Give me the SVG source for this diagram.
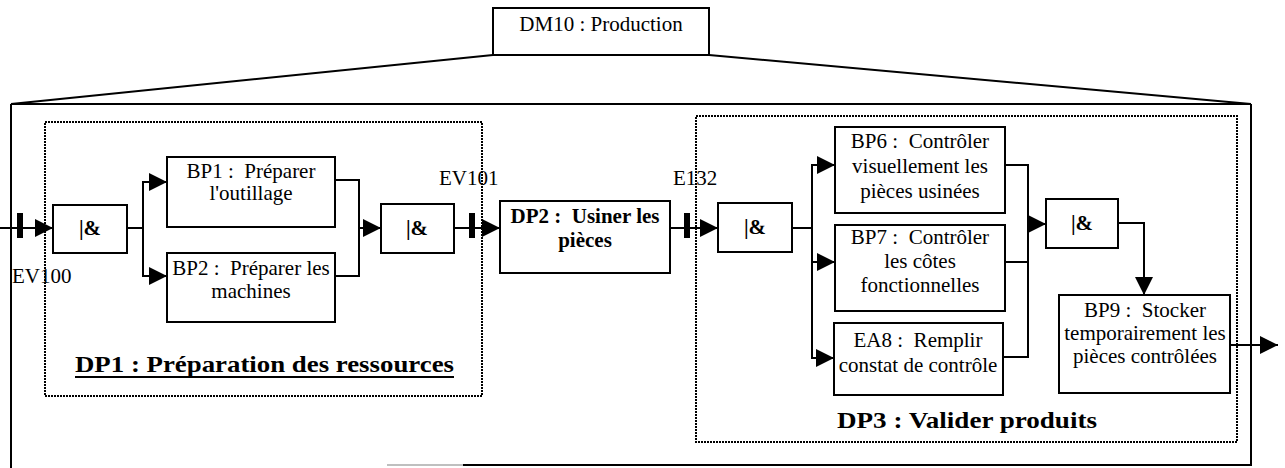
<svg xmlns="http://www.w3.org/2000/svg" width="1285" height="468" viewBox="0 0 1285 468">
<style>
text{font-family:"Liberation Serif","Times New Roman",serif;font-size:21px;fill:#000;white-space:pre}
.c{text-anchor:middle}
.b{font-weight:bold}
.box{fill:#fff;stroke:#000;stroke-width:2}
.dot{fill:none;stroke:#000;stroke-width:2;stroke-dasharray:2 1}
.ln{fill:none;stroke:#000;stroke-width:2}
.arr{fill:none;stroke:#000;stroke-width:2;marker-end:url(#ah)}
.tick{fill:#000}
.big{font-size:24px;font-weight:bold}
</style>
<defs>
<marker id="ah" markerUnits="userSpaceOnUse" markerWidth="20" markerHeight="20" refX="19" refY="10" orient="auto">
<path d="M1,1 L19,10 L1,19 Z" fill="#000"/>
</marker>
</defs>

<g id="frame">
<line class="ln" x1="493" y1="55" x2="11" y2="104"/>
<line class="ln" x1="709" y1="55" x2="1251" y2="104"/>
<line class="ln" x1="11" y1="104" x2="1251" y2="104"/>
<line class="ln" x1="11" y1="104" x2="11" y2="468"/>
<line class="ln" x1="1251" y1="104" x2="1251" y2="465"/>
<line x1="387" y1="465" x2="463" y2="465" stroke="#aaa" stroke-width="1.5"/>
<line class="ln" x1="463" y1="465" x2="1252" y2="465"/>
</g>

<g id="DM10">
<rect class="box" x="493" y="8" width="216" height="47"/>
<text class="c" x="601" y="31">DM10 : Production</text>
</g>

<g id="DP1">
<rect class="dot" x="45" y="122" width="437" height="274"/>
<text class="big" x="75" y="372" textLength="379" lengthAdjust="spacingAndGlyphs">DP1 : Préparation des ressources</text>
<line x1="75" y1="377" x2="454" y2="377" stroke="#000" stroke-width="2"/>
</g>

<g id="DP3">
<rect class="dot" x="696" y="116" width="541" height="326"/>
<text class="big" x="837" y="428" textLength="260" lengthAdjust="spacingAndGlyphs">DP3 : Valider produits</text>
</g>

<g id="connectors">
<path class="arr" d="M0,228 H53"/>
<rect class="tick" x="17" y="213" width="6" height="25"/>
<path class="ln" d="M127,228 H143"/>
<path class="arr" d="M143,228 V182 H167"/>
<path class="arr" d="M143,228 V276 H167"/>
<path class="ln" d="M335,180 H359 V228"/>
<path class="ln" d="M335,276 H359 V228"/>
<path class="arr" d="M359,228 H381"/>
<path class="arr" d="M454,228 H500"/>
<rect class="tick" x="469" y="213" width="6" height="25"/>
<path class="arr" d="M670,228 H718"/>
<rect class="tick" x="684" y="213" width="6" height="25"/>
<path class="ln" d="M792,228 H812"/>
<path class="arr" d="M812,228 V165 H835"/>
<path class="arr" d="M812,228 V262 H835"/>
<path class="arr" d="M812,228 V358 H834"/>
<path class="ln" d="M1005,165 H1028 V224"/>
<path class="ln" d="M1005,262 H1028"/>
<path class="ln" d="M1003,357 H1028 V224"/>
<path class="arr" d="M1028,224 H1046"/>
<path class="arr" d="M1118,223 H1144 V295"/>
<path class="arr" d="M1230,345 H1278"/>
</g>

<g id="labels">
<text x="12" y="283">EV100</text>
<text x="439" y="185">EV101</text>
<text x="673" y="185">E132</text>
</g>

<g id="and1">
<rect class="box" x="53" y="205" width="74" height="48"/>
<text class="c b" x="90" y="235">|&amp;</text>
</g>
<g id="BP1">
<rect class="box" x="167" y="157" width="168" height="70"/>
<text class="c" x="251" y="178">BP1 :  Préparer</text>
<text class="c" x="251" y="200">l'outillage</text>
</g>
<g id="BP2">
<rect class="box" x="167" y="253" width="168" height="69"/>
<text class="c" x="251" y="275">BP2 :  Préparer les</text>
<text class="c" x="251" y="298">machines</text>
</g>
<g id="and2">
<rect class="box" x="381" y="204" width="73" height="49"/>
<text class="c b" x="417" y="235">|&amp;</text>
</g>
<g id="DP2">
<rect class="box" x="500" y="201" width="170" height="72"/>
<text class="c b" x="585" y="223">DP2 :  Usiner les</text>
<text class="c b" x="585" y="247">pièces</text>
</g>
<g id="and3">
<rect class="box" x="718" y="203" width="74" height="49"/>
<text class="c b" x="755" y="234">|&amp;</text>
</g>
<g id="BP6">
<rect class="box" x="835" y="127" width="170" height="86"/>
<text class="c" x="920" y="148">BP6 :  Contrôler</text>
<text class="c" x="920" y="173">visuellement les</text>
<text class="c" x="920" y="198">pièces usinées</text>
</g>
<g id="BP7">
<rect class="box" x="835" y="225" width="170" height="86"/>
<text class="c" x="920" y="244">BP7 :  Contrôler</text>
<text class="c" x="920" y="268">les côtes</text>
<text class="c" x="920" y="292">fonctionnelles</text>
</g>
<g id="EA8">
<rect class="box" x="834" y="323" width="169" height="72"/>
<text class="c" x="918" y="347">EA8 :  Remplir</text>
<text class="c" x="918" y="372">constat de contrôle</text>
</g>
<g id="and4">
<rect class="box" x="1046" y="199" width="72" height="49"/>
<text class="c b" x="1082" y="230">|&amp;</text>
</g>
<g id="BP9">
<rect class="box" x="1059" y="295" width="171" height="98"/>
<text class="c" x="1145" y="317">BP9 :  Stocker</text>
<text class="c" x="1145" y="340">temporairement les</text>
<text class="c" x="1145" y="363">pièces contrôlées</text>
</g>
</svg>
